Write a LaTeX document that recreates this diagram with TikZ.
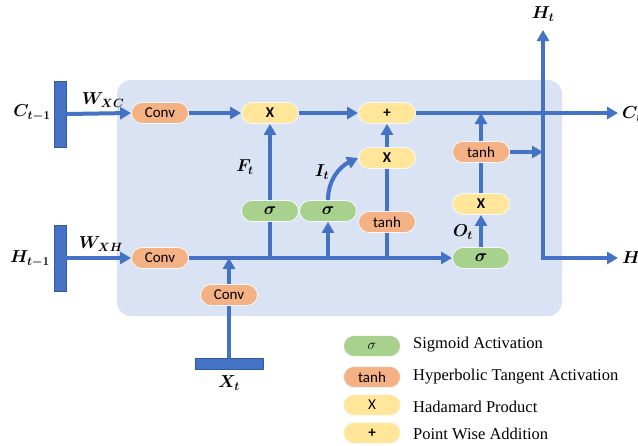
\documentclass[tikz,border=0pt]{standalone}
\usepackage{fontspec}
\usepackage{amsmath,bm}
\setmainfont{Liberation Serif}
\newfontfamily\calfont{Carlito}
\usetikzlibrary{arrows.meta}
\definecolor{lineblue}{HTML}{4472C4}
\definecolor{bgblue}{HTML}{DAE3F3}
\definecolor{orangec}{HTML}{F4B183}
\definecolor{yellowc}{HTML}{FFE699}
\definecolor{greenc}{HTML}{A9D18E}
\begin{document}
\begin{tikzpicture}[x=1pt,y=-1pt,
  flow/.style={line width=4pt, draw=lineblue},
  arr/.style={flow, -{Triangle[length=11pt,width=12pt]}},
  pill/.style={rounded corners=10.5pt, minimum width=57pt, minimum height=21pt, draw=white!75!bgblue, line width=0.8pt, font=\calfont\fontsize{15}{15}\selectfont, inner sep=0pt},
  convbox/.style={pill, fill=orangec},
  prodbox/.style={pill, fill=yellowc},
  sigbox/.style={pill, fill=greenc},
  bar/.style={fill=lineblue, draw=lineblue!80!black, line width=0.6pt, inner sep=0pt},
  lbl/.style={font=\fontsize{17}{17}\selectfont, inner sep=1pt},
  legtext/.style={font=\fontsize{16.5}{16.5}\selectfont, anchor=west, inner sep=0pt}
]
\useasboundingbox (0,0) rectangle (638,445);
% background
\fill[bgblue, rounded corners=14pt] (117,80) rectangle (562,316);

% input bars
\node[bar, minimum width=12pt, minimum height=66pt] (cbar) at (60,114) {};
\node[bar, minimum width=12pt, minimum height=66pt] (hbar) at (60,258) {};
\node[bar, minimum width=68pt, minimum height=11pt] (xbar) at (229,364) {};

% nodes
\node[convbox] (conv1) at (160,113) {Conv};
\node[convbox] (conv2) at (160,258) {Conv};
\node[convbox] (conv3) at (229,295) {Conv};
\node[prodbox] (x1) at (270,113) {\textbf{X}};
\node[prodbox] (plus) at (387,113) {\textbf{+}};
\node[sigbox, font=\fontsize{18}{18}\selectfont] (s1) at (270,211) {$\bm{\sigma}$};
\node[sigbox, font=\fontsize{18}{18}\selectfont] (s2) at (328,211) {$\bm{\sigma}$};
\node[prodbox] (x2) at (387,158) {\textbf{X}};
\node[convbox] (t1) at (387,222) {tanh};
\node[sigbox, font=\fontsize{18}{18}\selectfont] (s3) at (481,258) {$\bm{\sigma}$};
\node[prodbox] (x3) at (481,204) {\textbf{X}};
\node[convbox] (t2) at (481,152) {tanh};

% coordinates
\coordinate (j0) at (229,258);
\coordinate (j1) at (270,258);
\coordinate (j2) at (328,258);
\coordinate (j3) at (387,258);
\coordinate (jt) at (481,113);
\coordinate (cout) at (618,113);
\coordinate (hcorner) at (543,258);
\coordinate (htop) at (543,30);
\coordinate (hout) at (618,258);
\coordinate (tmerge) at (543,152);

% connectors
\draw[arr] (cbar.east) -- (conv1.west);
\draw[arr] (hbar.east) -- (conv2.west);
\draw[arr] (conv1.east) -- (x1.west);
\draw[arr] (x1.east) -- (plus.west);
\draw[arr] (plus.east) -- (cout);
\draw[arr] (conv2.east) -- (s3.west);
\draw[flow] (xbar.north) -- (conv3.south);
\draw[arr] (conv3.north) -- (j0);
\draw[flow] (j1) -- (s1.south);
\draw[arr] (s1.north) -- (x1.south);
\draw[arr] (j2) -- (s2.south);
\draw[arr] (s2.north) to[out=90,in=205] (x2.west);
\draw[flow] (j3) -- (t1.south);
\draw[flow] (t1.north) -- (x2.south);
\draw[arr] (x2.north) -- (plus.south);
\draw[arr] (s3.north) -- (x3.south);
\draw[flow] (x3.north) -- (t2.south);
\draw[arr] (t2.north) -- (jt);
\draw[arr] (t2.east) -- (tmerge);
\draw[flow, {Triangle[length=11pt,width=12pt]}-{Triangle[length=11pt,width=12pt]}] (htop) -- (hcorner) -- (hout);

% labels
\node[lbl] (lc) at (32,113) {$\bm{C_{t-1}}$};
\node[lbl] (lh) at (30,259) {$\bm{H_{t-1}}$};
\node[lbl] (lwxc) at (103,100) {$\bm{W_{XC}}$};
\node[lbl] (lwxh) at (101,244) {$\bm{W_{XH}}$};
\node[lbl] (lf) at (245,167) {$\bm{F_t}$};
\node[lbl] (li) at (322,172) {$\bm{I_t}$};
\node[lbl] (lo) at (463,232) {$\bm{O_t}$};
\node[lbl] (lx) at (229,383) {$\bm{X_t}$};
\node[lbl] (lht) at (543,14) {$\bm{H_t}$};
\node[lbl, anchor=west] (lct) at (621,114) {$\bm{C_t}$};
\node[lbl, anchor=west] (lhout) at (621,259) {$\bm{H_t}$};

% legend
\node[sigbox] (ls) at (372,346) {$\sigma$};
\node[convbox] (lt) at (372,377) {tanh};
\node[prodbox] (lp) at (372,405) {X};
\node[prodbox] (la) at (372,433) {\textbf{+}};
\node[legtext] (lst) at (413,345) {Sigmoid Activation};
\node[legtext] (ltt) at (413,377) {Hyperbolic Tangent Activation};
\node[legtext] (lpt) at (413,407) {Hadamard Product};
\node[legtext] (lat) at (413,434) {Point Wise Addition};
\end{tikzpicture}
\end{document}
